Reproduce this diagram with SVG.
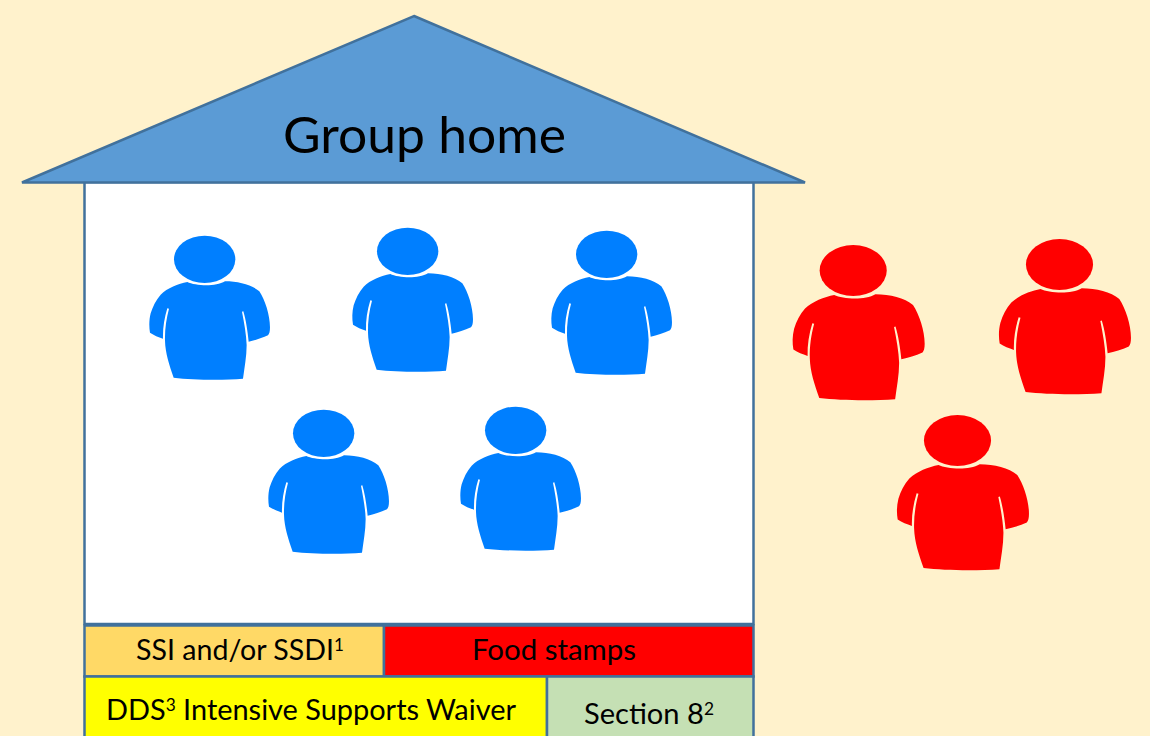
<svg xmlns="http://www.w3.org/2000/svg" xmlns:xlink="http://www.w3.org/1999/xlink" width="1150" height="736" viewBox="0 0 1150 736">
<style>
.box{stroke:#41719C;stroke-width:2.5}
.t{font-family:Lato,"Liberation Sans",sans-serif;fill:#000;font-size:28.500px}
.b{fill:#007FFF}
.r{fill:#FF0000}
</style>
<defs>
<g id="person">
<ellipse cx="224" cy="118" rx="92" ry="71"/>
<path d="M172 186C195 197 255 202 285 184C325 184 365 194 388 214C405 240 420 285 420 322C420 335 418 342 414 346C395 355 375 361 356 365C353 335 348 300 340 274L336 275C343 310 349 345 350 375C350 410 343 445 339 476C280 481 190 480 131 473C118 435 106 400 105 362C104 330 109 295 117 266L112 265C103 295 98 325 99 356C85 351 72 346 60 338C57 320 57 300 62 280C68 260 78 240 92 224C112 204 145 191 172 186Z"/>
</g>
</defs>
<rect width="1150" height="736" fill="#FFF2CC"/>
<g id="house-body"><rect class="box" x="84.500" y="182" width="669" height="442" fill="#fff"/></g>
<g id="roof"><polygon class="box" points="414,16 805,182.500 22,182.500" fill="#5B9BD5"/>
<text class="t" x="424.500" y="153" text-anchor="middle" style="font-size:51px" textLength="283" lengthAdjust="spacingAndGlyphs">Group home</text></g>
<g id="person-1" class="b"><use xlink:href="#person" href="#person" transform="translate(130,220) scale(.3333)"/></g>
<g id="person-2" class="b"><use xlink:href="#person" href="#person" transform="translate(333,212) scale(.3333)"/></g>
<g id="person-3" class="b"><use xlink:href="#person" href="#person" transform="translate(532,215) scale(.3333)"/></g>
<g id="person-4" class="b"><use xlink:href="#person" href="#person" transform="translate(249,394) scale(.3333)"/></g>
<g id="person-5" class="b"><use xlink:href="#person" href="#person" transform="translate(441,391) scale(.3333)"/></g>
<g id="person-6" class="r"><use xlink:href="#person" href="#person" transform="translate(771.500,228.100) scale(.3647,.3593)"/></g>
<g id="person-7" class="r"><use xlink:href="#person" href="#person" transform="translate(977.800,222.100) scale(.3647,.3593)"/></g>
<g id="person-8" class="r"><use xlink:href="#person" href="#person" transform="translate(875.800,398.100) scale(.3647,.3593)"/></g>
<g id="ssi"><rect class="box" x="84.500" y="625.500" width="299.500" height="51" fill="#FFD966"/>
<text class="t" x="136" y="660" textLength="208" lengthAdjust="spacingAndGlyphs">SSI and/or SSDI<tspan dy="-9" font-size="17">1</tspan></text></g>
<g id="food"><rect class="box" x="384" y="625.500" width="369.500" height="51" fill="#FF0000"/>
<text class="t" x="472" y="660" textLength="164" lengthAdjust="spacingAndGlyphs">Food stamps</text></g>
<g id="dds"><rect class="box" x="84.500" y="676.500" width="462.500" height="70" fill="#FFFF00"/>
<text class="t" x="106" y="720" textLength="410" lengthAdjust="spacingAndGlyphs">DDS<tspan dy="-9" font-size="17">3</tspan><tspan dy="9"> Intensive Supports Waiver</tspan></text></g>
<g id="section8"><rect class="box" x="547" y="676.500" width="206.500" height="70" fill="#C5E0B4"/>
<text class="t" x="584" y="724" textLength="130" lengthAdjust="spacingAndGlyphs">Section 8<tspan dy="-9" font-size="17">2</tspan></text></g>
</svg>
